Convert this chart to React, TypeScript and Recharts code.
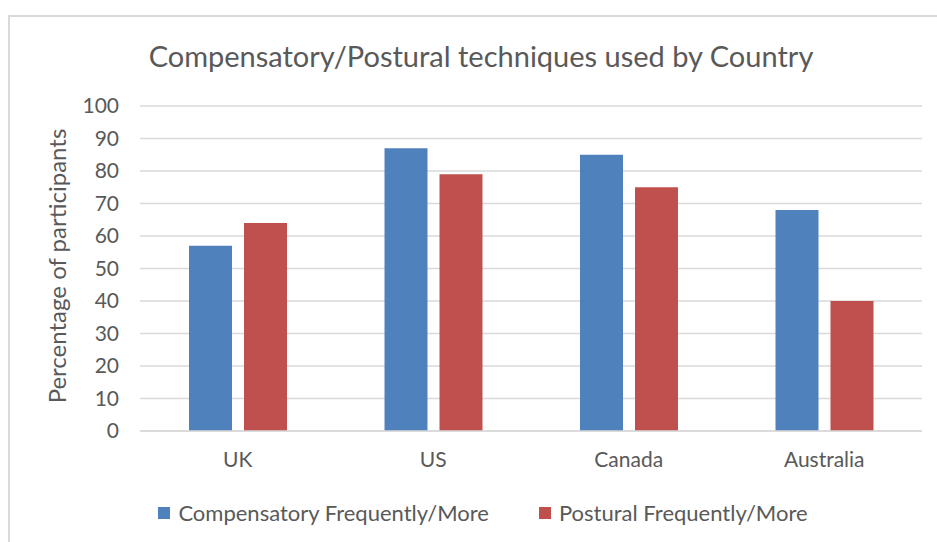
import { BarChart, Bar, XAxis, YAxis, CartesianGrid, Legend } from "recharts";

const countries = ["UK", "US", "Canada", "Australia"];
const compensatory = [57, 87, 85, 68];
const postural = [64, 79, 75, 40];
const yTicks = [0, 10, 20, 30, 40, 50, 60, 70, 80, 90, 100];

const BLUE = "#4F81BD";
const RED = "#C0504D";
const TEXT = "#595959";
const GRID = "#D9D9D9";
const FONT = "Lato, 'Open Sans', sans-serif";

const data = countries.map((c, i) => ({
  country: c,
  compensatory: compensatory[i],
  postural: postural[i],
}));

function LegendBox() {
  const items = [
    { label: "Compensatory Frequently/More", color: BLUE },
    { label: "Postural Frequently/More", color: RED },
  ];
  return (
    <div style={{ display: "flex", justifyContent: "center", gap: 50, fontFamily: FONT, fontSize: 22, color: TEXT }}>
      {items.map((it) => (
        <div key={it.label} style={{ display: "flex", alignItems: "center" }}>
          <span style={{ width: 12, height: 12, background: it.color, marginRight: 8, display: "inline-block" }} />
          {it.label}
        </div>
      ))}
    </div>
  );
}

export default function App() {
  return (
    <div style={{ position: "absolute", left: 0, top: 0, width: 937, height: 542, background: "#fff", overflow: "hidden" }}>
      <div style={{ position: "absolute", left: 8, top: 15, width: 960, height: 560, border: `2px solid ${GRID}` }} />
      <div
        style={{
          position: "absolute",
          left: 0,
          width: 962,
          top: 38,
          textAlign: "center",
          fontFamily: FONT,
          fontSize: 29,
          color: TEXT,
        }}
      >
        Compensatory/Postural techniques used by Country
      </div>
      <BarChart
        width={937}
        height={542}
        data={data}
        margin={{ top: 106, right: 15, left: 0, bottom: 0 }}
        barGap={12}
        barSize={43}
        style={{ position: "absolute", left: 0, top: 0 }}
      >
        <CartesianGrid vertical={false} stroke={GRID} strokeWidth={1.5} />
        <XAxis
          dataKey="country"
          height={111}
          tickSize={0}
          tickMargin={21}
          axisLine={{ stroke: GRID, strokeWidth: 1.5 }}
          tick={{ fill: TEXT, fontSize: 21, fontFamily: FONT }}
        />
        <YAxis
          width={140}
          domain={[0, 100]}
          ticks={yTicks}
          interval={0}
          tickSize={0}
          tickMargin={21}
          axisLine={false}
          tick={{ fill: TEXT, fontSize: 21, fontFamily: FONT }}
          label={{
            content: () => (
              <text
                x={0}
                y={0}
                transform="translate(66, 266) rotate(-90)"
                textAnchor="middle"
                fill={TEXT}
                fontSize={24}
                fontFamily={FONT}
              >
                Percentage of participants
              </text>
            ),
          }}
        />
        <Legend
          verticalAlign="middle"
          align="center"
          layout="horizontal"
          wrapperStyle={{ top: 499, left: 0, width: 966 }}
          content={() => <LegendBox />}
        />
        <Bar dataKey="compensatory" fill={BLUE} isAnimationActive={false} />
        <Bar dataKey="postural" fill={RED} isAnimationActive={false} />
      </BarChart>
    </div>
  );
}
